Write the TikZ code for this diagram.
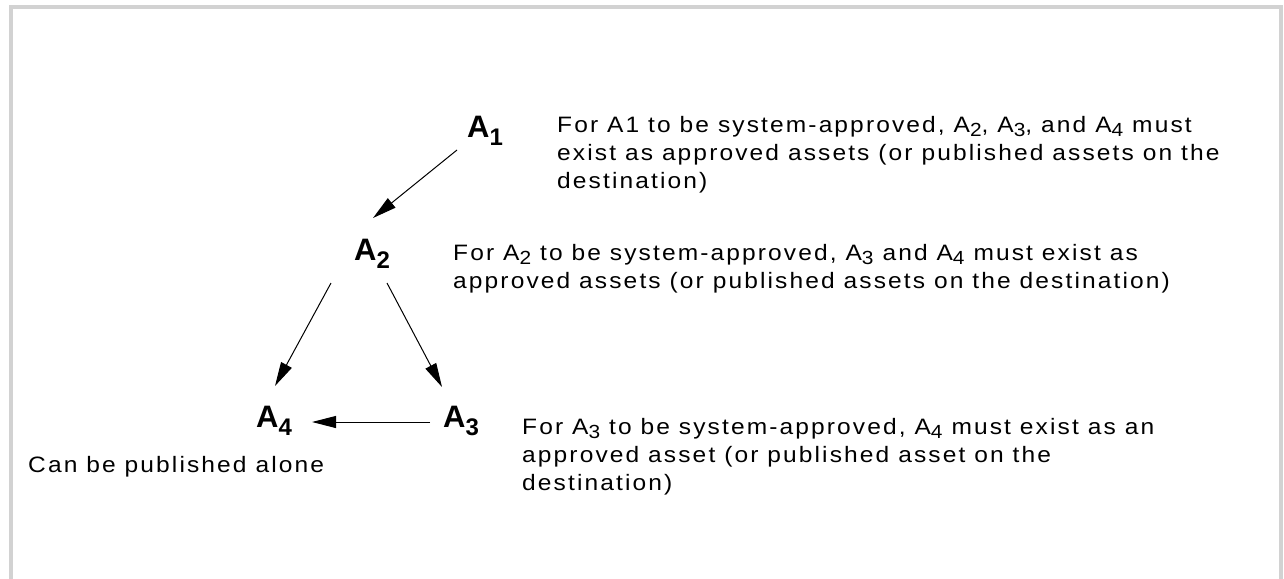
\documentclass[tikz,border=0pt]{standalone}
\usepackage{fontspec}
\usetikzlibrary{arrows.meta,calc}
\newfontfamily\txtfont{Liberation Sans}[FakeStretch=1.1,LetterSpace=9.5]
\newfontfamily\lblfont{Liberation Sans}
\definecolor{framegray}{RGB}{210,210,210}
\newcommand\lsub[1]{\raisebox{-4pt}{\fontsize{19}{19}\selectfont #1}}
\newcommand\lblsub[1]{\raisebox{-8pt}{\fontsize{24}{24}\selectfont #1}}
\tikzset{
  lbl/.style={inner sep=0pt,anchor=base west,font=\lblfont\bfseries\fontsize{31}{31}\selectfont},
  desc/.style={inner sep=0pt,anchor=base west,align=left,font=\txtfont\fontsize{22.3}{27.8}\selectfont},
  arr/.style={line width=1pt,-{Triangle[length=24pt,width=12pt]}},
  frameline/.style={draw=framegray,line width=4pt}
}
\begin{document}
\begin{tikzpicture}[x=1pt,y=-1pt]
\useasboundingbox (0,0) rectangle (1284,578);
\clip (0,0) rectangle (1284,578);
\fill[white] (0,0) rectangle (1284,578);
\draw[frameline] (10.5,7.5) rectangle (1281,620);

\node[lbl] (a1) at (467,137) {A\lblsub{1}};
\node[lbl] (a2) at (354,260) {A\lblsub{2}};
\node[lbl] (a4) at (256,427) {A\lblsub{4}};
\node[lbl] (a3) at (443,427) {A\lblsub{3}};

\node[desc] (t1) at (557,188) {For A1 to be system-approved, A\lsub{2}, A\lsub{3}, and A\lsub{4} must\\exist as approved assets (or published assets on the\\destination)};
\node[desc] (t2) at (453,288) {For A\lsub{2} to be system-approved, A\lsub{3} and A\lsub{4} must exist as\\approved assets (or published assets on the destination)};
\node[desc] (t3) at (522,490) {For A\lsub{3} to be system-approved, A\lsub{4} must exist as an\\approved asset (or published asset on the\\destination)};
\node[desc] (t4) at (28,472) {Can be published alone};

\draw[arr] ($(a1.base west)+(-10,13)$) -- ($(a2.base west)+(19,-42)$);
\draw[arr] ($(a2.base west)+(-23,23)$) -- ($(a4.base west)+(19,-41)$);
\draw[arr] ($(a2.base west)+(33,23)$) -- ($(a3.base west)+(-1,-40)$);
\draw[arr] ($(a3.base west)+(-13,-5)$) -- ($(a4.base west)+(56,-5)$);
\end{tikzpicture}
\end{document}
